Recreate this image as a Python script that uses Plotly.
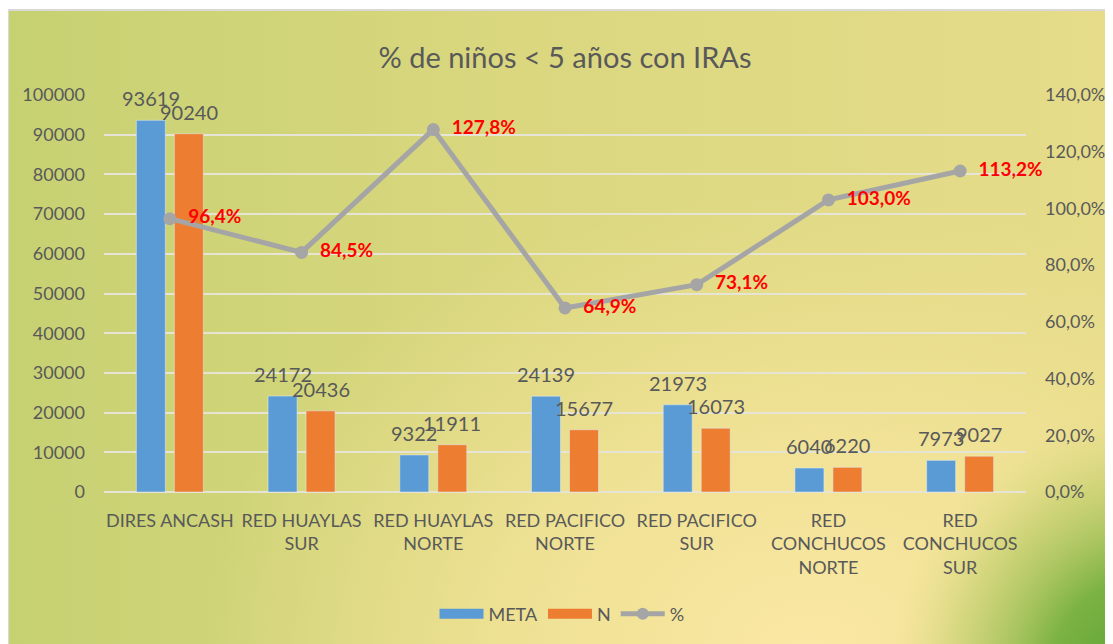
import base64
import plotly.graph_objects as go

categories = ["DIRES ANCASH", "RED HUAYLAS<br>SUR", "RED HUAYLAS<br>NORTE",
              "RED PACIFICO<br>NORTE", "RED PACIFICO<br>SUR",
              "RED<br>CONCHUCOS<br>NORTE", "RED<br>CONCHUCOS<br>SUR"]
meta = [93619, 24172, 9322, 24139, 21973, 6040, 7973]
n_vals = [90240, 20436, 11911, 15677, 16073, 6220, 9027]
pct = [0.964, 0.845, 1.278, 0.649, 0.731, 1.030, 1.132]

# page body has an 8px offset; positions below are the reference's minus 8
OFF = 8
W, H = 1113, 644
ML, MT = 104 - OFF, 95 - OFF
PW, PH = 922, 397
MR, MB = W - ML - PW, H - MT - PH

svg = f'''<svg xmlns="http://www.w3.org/2000/svg" width="{W}" height="{H}" viewBox="0 0 {W} {H}" preserveAspectRatio="none">
<defs>
<linearGradient id="g1" x1="0" y1="0" x2="1" y2="0">
<stop offset="0" stop-color="#c6d172"/>
<stop offset="0.45" stop-color="#dad77f"/>
<stop offset="1" stop-color="#e6dc8a"/>
</linearGradient>
<radialGradient id="g2" cx="0.72" cy="1.0" r="0.55" gradientTransform="translate(0.72 1) scale(1 1.3) translate(-0.72 -1)">
<stop offset="0" stop-color="#fbe8a4" stop-opacity="1"/>
<stop offset="0.5" stop-color="#f6e59c" stop-opacity="0.7"/>
<stop offset="1" stop-color="#f2e296" stop-opacity="0"/>
</radialGradient>
<radialGradient id="g3" cx="1.03" cy="1.05" r="0.24" gradientTransform="translate(1.03 1.05) scale(1 1.8) translate(-1.03 -1.05)">
<stop offset="0" stop-color="#4f9e2e" stop-opacity="1"/>
<stop offset="0.4" stop-color="#76b040" stop-opacity="0.95"/>
<stop offset="0.75" stop-color="#b4c860" stop-opacity="0.5"/>
<stop offset="1" stop-color="#d8da80" stop-opacity="0"/>
</radialGradient>
</defs>
<rect x="0" y="0" width="{W}" height="{H}" fill="url(#g1)"/>
<rect x="0" y="0" width="{W}" height="{H}" fill="url(#g2)"/>
<rect x="0" y="0" width="{W}" height="{H}" fill="url(#g3)"/>
</svg>'''
src = "data:image/svg+xml;base64," + base64.b64encode(svg.encode()).decode()

font_fam = "Lato, 'Open Sans', sans-serif"
gray = "#595959"
blue, orange, lgray = "#5b9bd5", "#ed7d31", "#a5a5a5"

fig = go.Figure()
fig.add_trace(go.Bar(x=categories, y=meta, name="META", marker_color=blue, showlegend=False))
fig.add_trace(go.Bar(x=categories, y=n_vals, name="N", marker_color=orange, showlegend=False))
fig.add_trace(go.Scatter(
    x=categories, y=pct, name="%", yaxis="y2", mode="lines+markers+text",
    showlegend=False,
    line=dict(color=lgray, width=5), marker=dict(color=lgray, size=13),
    texttemplate="  %{y:.1%}", textposition="middle right", cliponaxis=False,
    textfont=dict(size=19, color="#ff0000", family=font_fam, weight="bold"),
))
# legend entries (wide rectangles like the original)
fig.add_trace(go.Scatter(x=[None], y=[None], mode="lines", name="META",
                         line=dict(color=blue, width=14)))
fig.add_trace(go.Scatter(x=[None], y=[None], mode="lines", name="N",
                         line=dict(color=orange, width=14)))
fig.add_trace(go.Scatter(x=[None], y=[None], mode="lines+markers", name="%",
                         line=dict(color=lgray, width=5), marker=dict(color=lgray, size=12)))

# bar value labels, anchored to the data through the axes
annotations = []
for cat, m, nv in zip(categories, meta, n_vals):
    for val, xs in ((m, -19), (nv, 19)):
        annotations.append(dict(x=cat, y=val, xref="x", yref="y", text=str(val),
                                showarrow=False, xshift=xs, yshift=8,
                                yanchor="bottom", xanchor="center",
                                font=dict(size=20, color=gray, family=font_fam)))

fig.update_layout(
    width=W, height=H,
    margin=dict(l=ML, r=MR, t=MT, b=MB, autoexpand=False),
    paper_bgcolor="white", plot_bgcolor="rgba(0,0,0,0)",
    separators=",.",
    font=dict(family=font_fam, color=gray, size=18),
    title=dict(text="% de niños < 5 años con IRAs", x=(565 - OFF) / W,
               xanchor="center", y=1 - (58 - OFF) / H, yanchor="middle",
               font=dict(size=29, color=gray)),
    barmode="group", bargap=0.423, bargroupgap=0.237,
    showlegend=True,
    legend=dict(orientation="h", x=(562 - OFF - ML) / PW, xanchor="center",
                y=-((614 - OFF) - (MT + PH)) / PH, yanchor="middle",
                font=dict(size=18, color=gray), bgcolor="rgba(0,0,0,0)",
                itemwidth=44, tracegroupgap=0),
    xaxis=dict(showline=False, ticks="", tickfont=dict(size=18, color=gray), showgrid=False,
               tickangle=0, ticklabelstandoff=16),
    yaxis=dict(range=[0, 100000], dtick=10000, tickformat="d", showline=False,
               gridcolor="#e6e4d4", gridwidth=2, zeroline=True, zerolinecolor="#e6e4d4",
               zerolinewidth=2, ticklabelstandoff=18, tickfont=dict(size=18, color=gray)),
    yaxis2=dict(range=[0, 1.4], dtick=0.2, tickformat=".1%", overlaying="y", side="right",
                showgrid=False, zeroline=False, showline=False, ticklabelstandoff=18,
                tickfont=dict(size=18, color=gray)),
    annotations=annotations,
    images=[dict(source=src, xref="paper", yref="paper",
                 x=(8 - OFF - ML) / PW, y=1 + (MT - (10 - OFF)) / PH,
                 sizex=(W - 8 + OFF) / PW, sizey=(H - 10 + OFF) / PH,
                 xanchor="left", yanchor="top", sizing="stretch", layer="below")],
    shapes=[dict(type="rect", xref="paper", yref="paper",
                 x0=(8 - OFF - ML) / PW, x1=(W + 5 - ML) / PW,
                 y0=-(H + 5 - MT - PH) / PH, y1=1 + (MT - (10 - OFF)) / PH,
                 line=dict(color="#d9d9d9", width=2), layer="below")],
)

fig.write_html("out.html")
